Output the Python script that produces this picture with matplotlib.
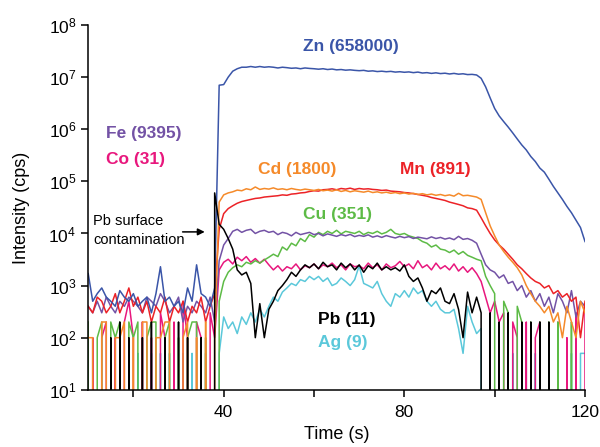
import numpy as np
import matplotlib
matplotlib.use("Agg")
import matplotlib.pyplot as plt
from matplotlib.ticker import FixedLocator, NullLocator, FuncFormatter

plt.rcParams['font.family'] = ['Liberation Sans', 'DejaVu Sans']
plt.rcParams['mathtext.default'] = 'regular'

# time axis, 1 s per reading
t = np.arange(10, 121)

# counts per second, t = 10 ... 120
zn = [1700, 500, 700, 900, 600, 500, 400, 800, 600, 500,
      700, 400, 500, 600, 300, 700, 2300, 500, 600, 400,
      500, 300, 900, 500, 2500, 700, 600, 400, 900, 7e6,
      7.2e6, 1e7, 1.3e7, 1.45e7, 1.55e7, 1.55e7, 1.6e7, 1.55e7, 1.6e7, 1.55e7,
      1.58e7, 1.55e7, 1.5e7, 1.55e7, 1.52e7, 1.48e7, 1.5e7, 1.45e7, 1.5e7, 1.47e7,
      1.45e7, 1.42e7, 1.45e7, 1.4e7, 1.43e7, 1.38e7, 1.4e7, 1.36e7, 1.38e7, 1.35e7,
      1.33e7, 1.35e7, 1.3e7, 1.32e7, 1.28e7, 1.3e7, 1.27e7, 1.29e7, 1.25e7, 1.27e7,
      1.24e7, 1.26e7, 1.22e7, 1.25e7, 1.2e7, 1.22e7, 1.18e7, 1.21e7, 1.17e7, 1.19e7,
      1.15e7, 1.18e7, 1.14e7, 1.16e7, 1.12e7, 1.13e7, 1.1e7, 9.5e6, 6.5e6, 4e6,
      2.5e6, 1.8e6, 1.4e6, 1.1e6, 8.5e5, 6.5e5, 5e5, 4e5, 3e5, 2.4e5,
      1.8e5, 1.5e5, 1.1e5, 8e4, 6e4, 4.5e4, 3.3e4, 2.5e4, 1.8e4, 1.3e4,
      7e3]
mn = [400, 300, 600, 500, 300, 400, 700, 300, 500, 900,
      400, 600, 300, 500, 200, 400, 300, 600, 200, 400,
      300, 500, 200, 400, 300, 600, 200, 400, 700, 1.2e4,
      2.4e4, 3e4, 3.4e4, 3.8e4, 4.1e4, 4.3e4, 4.5e4, 4.7e4, 4.8e4, 5e4,
      5.1e4, 5.2e4, 5.3e4, 5.5e4, 5.4e4, 5.7e4, 5.8e4, 6e4, 6.1e4, 6.4e4,
      6.6e4, 6.5e4, 6.9e4, 7e4, 7.2e4, 6.9e4, 7.3e4, 7.1e4, 7.4e4, 7e4,
      7.3e4, 7.1e4, 7.2e4, 7e4, 6.9e4, 6.7e4, 6.8e4, 6.5e4, 6.4e4, 6.3e4,
      6.1e4, 6e4, 5.8e4, 5.6e4, 5.4e4, 5.2e4, 4.9e4, 4.7e4, 4.5e4, 4.3e4,
      4e4, 3.8e4, 3.6e4, 3.4e4, 3.1e4, 3e4, 2.8e4, 2e4, 1.4e4, 1e4,
      7.5e3, 6e3, 5e3, 4e3, 3.2e3, 2.5e3, 2.1e3, 1.7e3, 1.4e3, 1.2e3,
      1.1e3, 900, 1e3, 700, 800, 600, 700, 500, 600, 100,
      500]
cd = [100, 100, 0, 200, 200, 0, 100, 100, 200, 0,
      100, 0, 200, 200, 0, 100, 100, 200, 200, 0,
      0, 100, 200, 0, 100, 0, 200, 0, 100, 4e4,
      5.5e4, 6e4, 6.3e4, 6.8e4, 6.6e4, 7.2e4, 6.9e4, 7.8e4, 7e4, 7.3e4,
      7.1e4, 7.5e4, 7e4, 7.2e4, 6.9e4, 7.3e4, 7e4, 6.8e4, 7.1e4, 6.9e4,
      6.7e4, 7e4, 6.6e4, 6.8e4, 6.5e4, 6.9e4, 6.4e4, 6.7e4, 6.3e4, 6.6e4,
      6.4e4, 6.2e4, 6.5e4, 6.1e4, 6.3e4, 6e4, 6.2e4, 5.9e4, 6.1e4, 5.8e4,
      6e4, 5.7e4, 5.9e4, 5.6e4, 5.8e4, 5.5e4, 5.7e4, 5.4e4, 5.6e4, 5.3e4,
      5.5e4, 5.2e4, 5.9e4, 5.3e4, 5.4e4, 5.2e4, 5e4, 4.5e4, 2.5e4, 1.4e4,
      9e3, 6e3, 4.5e3, 3.5e3, 2.8e3, 2.2e3, 1.6e3, 1e3, 700, 500,
      400, 300, 400, 200, 300, 100, 400, 200, 100, 500,
      300]
fe = [400, 300, 500, 300, 600, 400, 300, 500, 400, 600,
      500, 400, 300, 600, 500, 400, 700, 500, 300, 400,
      600, 200, 400, 300, 500, 400, 300, 600, 200, 3e3,
      6e3, 8e3, 1.1e4, 1.2e4, 1.05e4, 1.15e4, 1.2e4, 1e4, 1.1e4, 1.15e4,
      1.05e4, 1.1e4, 9.5e3, 1.05e4, 1e4, 9e3, 1.05e4, 9.5e3, 1e4, 1.05e4,
      9.5e3, 1e4, 9e3, 9.8e3, 9.3e3, 8.8e3, 9.5e3, 9e3, 9.6e3, 8.7e3,
      9.2e3, 8.8e3, 9.4e3, 8.5e3, 9e3, 8.4e3, 9.1e3, 8.6e3, 8.2e3, 8.8e3,
      8.3e3, 8.7e3, 8e3, 8.5e3, 8.2e3, 7.9e3, 8.6e3, 8e3, 8.4e3, 7.8e3,
      8.2e3, 7.6e3, 8.8e3, 7.7e3, 8e3, 7.4e3, 6.5e3, 4e3, 2.5e3, 2e3,
      1.8e3, 1.4e3, 1.6e3, 1.1e3, 1.2e3, 800, 1e3, 600, 800, 500,
      700, 400, 600, 300, 700, 500, 300, 800, 250, 500,
      400]
co = [0, 100, 0, 100, 200, 0, 100, 0, 200, 500,
      100, 0, 200, 0, 100, 0, 300, 100, 0, 200,
      0, 500, 100, 0, 200, 100, 0, 300, 100, 2e3,
      2.8e3, 3.2e3, 2.6e3, 3.5e3, 3e3, 3.6e3, 2.8e3, 3.3e3, 2.7e3, 3.2e3,
      2.5e3, 2e3, 2.4e3, 1.9e3, 2.3e3, 2.1e3, 2.6e3, 2e3, 2.4e3, 2.2e3,
      2.6e3, 2.1e3, 2.5e3, 2.3e3, 2.7e3, 2.2e3, 2.5e3, 2e3, 2.6e3, 2.3e3,
      2.4e3, 2.1e3, 2.7e3, 2.2e3, 2.5e3, 2e3, 2.6e3, 2.2e3, 2.4e3, 2.9e3,
      2.3e3, 2.6e3, 2.1e3, 3e3, 2.2e3, 2.5e3, 2e3, 2.7e3, 2.1e3, 2.4e3,
      2e3, 2.6e3, 1.9e3, 2.3e3, 1.8e3, 2.2e3, 1.7e3, 1.2e3, 600, 300,
      500, 200, 300, 0, 200, 100, 0, 200, 0, 100,
      200, 0, 100, 0, 200, 0, 100, 0, 300, 0,
      400]
cu = [200, 0, 100, 200, 0, 200, 100, 200, 0, 200,
      100, 200, 0, 100, 200, 200, 0, 100, 200, 0,
      100, 0, 100, 200, 200, 0, 100, 0, 0, 500,
      1.2e3, 1.8e3, 2.2e3, 2.5e3, 2.3e3, 2.8e3, 2.6e3, 3e3, 2.7e3, 3.1e3,
      3.5e3, 4e3, 3.6e3, 5.5e3, 4.8e3, 6.5e3, 5.8e3, 8e3, 7e3, 9.5e3,
      8.5e3, 1.05e4, 9.5e3, 1.1e4, 1e4, 1.15e4, 9.8e3, 1.1e4, 1.05e4, 1e4,
      1.1e4, 9.5e3, 1.05e4, 1e4, 1.1e4, 9.8e3, 1.05e4, 1.2e4, 1e4, 9.5e3,
      1e4, 9e3, 8.5e3, 8e3, 7e3, 6.5e3, 5.5e3, 6e3, 5e3, 4.8e3,
      4.3e3, 4.8e3, 4e3, 4.5e3, 3.8e3, 3.5e3, 3.2e3, 3e3, 1.5e3, 1e3,
      700, 0, 500, 300, 0, 400, 200, 0, 200, 0,
      200, 0, 200, 0, 200, 0, 0, 200, 0, 0,
      0]
pb = [0, 0, 0, 0, 0, 100, 0, 200, 0, 100,
      0, 0, 100, 0, 200, 0, 0, 100, 0, 0,
      200, 0, 100, 0, 0, 100, 0, 0, 6e4, 1.5e4,
      1.2e4, 8e3, 5e3, 2e3, 1.6e3, 1.8e3, 1.1e3, 100, 450, 100,
      350, 500, 800, 1e3, 1.3e3, 1.8e3, 1.5e3, 2e3, 2.5e3, 2.2e3,
      2.6e3, 2.1e3, 2.8e3, 2.3e3, 2.5e3, 2e3, 2.7e3, 2.2e3, 2.6e3, 2e3,
      2.5e3, 1.8e3, 2.4e3, 2.1e3, 2.7e3, 2e3, 2.3e3, 2e3, 2.2e3, 1.9e3,
      2.5e3, 1.5e3, 1.2e3, 1.4e3, 900, 500, 800, 700, 900, 500,
      450, 700, 350, 100, 750, 300, 600, 300, 0, 300,
      0, 200, 0, 300, 0, 0, 200, 0, 200, 0,
      200, 0, 200, 0, 0, 0, 0, 0, 0, 0,
      0]
ag = [0, 0, 0, 0, 0, 50, 0, 50, 0, 50,
      0, 50, 0, 0, 50, 0, 50, 0, 50, 0,
      0, 50, 0, 50, 0, 0, 50, 0, 0, 50,
      250, 150, 200, 120, 250, 180, 300, 200, 350, 250,
      400, 600, 500, 750, 900, 1.1e3, 1e3, 1.3e3, 1.2e3, 1.5e3,
      1.3e3, 1.5e3, 1.2e3, 1.4e3, 1e3, 1.1e3, 1.4e3, 1.2e3, 1e3, 1.3e3,
      2.4e3, 1.1e3, 1e3, 900, 1.2e3, 700, 500, 400, 700, 600,
      800, 600, 900, 700, 800, 500, 400, 500, 350, 300,
      300, 350, 150, 50, 400, 200, 120, 150, 0, 50,
      0, 50, 0, 0, 50, 0, 0, 50, 0, 50,
      0, 0, 50, 0, 50, 0, 0, 50, 0, 50,
      50]

colors = {
    'Zn': '#3a55a8', 'Fe': '#7352a5', 'Co': '#e8177d', 'Cd': '#f58a2a',
    'Mn': '#ec2227', 'Cu': '#5dbb46', 'Pb': '#000000', 'Ag': '#5bc8da',
}

fig = plt.figure(figsize=(6.0, 4.47), dpi=100)
ax = fig.add_axes([0.147, 0.128, 0.828, 0.816])

for name, y in [('Ag', ag), ('Co', co), ('Cu', cu), ('Fe', fe),
                ('Mn', mn), ('Cd', cd), ('Zn', zn), ('Pb', pb)]:
    ax.plot(t, np.array(y, dtype=float), color=colors[name], lw=1.1)

ax.set_yscale('log', nonpositive='clip')
ax.set_xlim(10, 120)
ax.set_ylim(10, 1e8)

ax.xaxis.set_major_locator(FixedLocator([40, 80, 120]))
ax.xaxis.set_minor_locator(FixedLocator([20, 60, 100]))
ax.yaxis.set_major_locator(FixedLocator([10.0 ** k for k in range(1, 9)]))
ax.yaxis.set_minor_locator(NullLocator())
ax.yaxis.set_major_formatter(FuncFormatter(lambda v, p: r'$10^{%d}$' % round(np.log10(v))))
ax.tick_params(which='both', direction='out', length=5, width=1.1, labelsize=12.5, colors='black')
ax.tick_params(axis='x', pad=6)

for s in ['top', 'right']:
    ax.spines[s].set_visible(False)
for s in ['left', 'bottom']:
    ax.spines[s].set_linewidth(1.1)

ax.set_xlabel('Time (s)', fontsize=13, labelpad=4)
ax.set_ylabel('Intensity (cps)', fontsize=13, labelpad=13)

lbl = dict(fontsize=12.5, fontweight='bold', va='center')
ax.text(57.6, 10 ** 7.58, 'Zn (658000)', color=colors['Zn'], ha='left', **lbl)
ax.text(14.0, 10 ** 5.91, 'Fe (9395)', color=colors['Fe'], ha='left', **lbl)
ax.text(14.0, 10 ** 5.41, 'Co (31)', color=colors['Co'], ha='left', **lbl)
ax.text(47.6, 10 ** 5.22, 'Cd (1800)', color=colors['Cd'], ha='left', **lbl)
ax.text(79.1, 10 ** 5.22, 'Mn (891)', color=colors['Mn'], ha='left', **lbl)
ax.text(57.6, 10 ** 4.36, 'Cu (351)', color=colors['Cu'], ha='left', **lbl)
ax.text(60.9, 10 ** 2.34, 'Pb (11)', color=colors['Pb'], ha='left', **lbl)
ax.text(60.9, 10 ** 1.90, 'Ag (9)', color=colors['Ag'], ha='left', **lbl)

ax.text(11.1, 10 ** 4.05, 'Pb surface\ncontamination', fontsize=10.5,
        ha='left', va='center', linespacing=1.45)
ax.annotate('', xy=(35.8, 10 ** 4.03), xytext=(30.9, 10 ** 4.03),
            arrowprops=dict(arrowstyle='-|>', color='black', lw=1.1,
                            mutation_scale=10, shrinkA=0, shrinkB=0))

fig.savefig('out.png', dpi=100)
